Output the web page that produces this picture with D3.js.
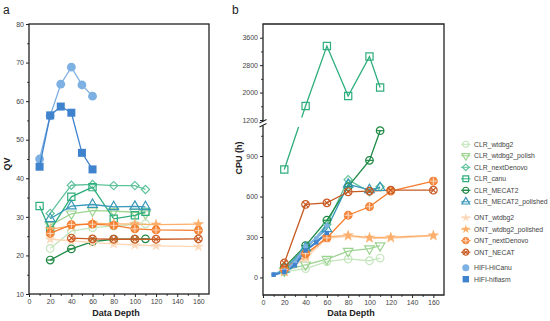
<!DOCTYPE html>
<html><head><meta charset="utf-8">
<script src="https://cdn.jsdelivr.net/npm/d3@7"></script>
<style>
body{margin:0;background:#fff}
svg{display:block;font-family:Arial,"Liberation Sans",sans-serif}
</style>
</head><body>
<svg id="chart" width="550" height="321"></svg>
<script>
// Sequencing depths per group of assemblies
const clrDepth = [20, 40, 60, 80, 100, 110];
const canuDepthQV = [10, 20, 40, 60, 80, 100, 110];
const ontDepth = [20, 40, 60, 80, 100, 120, 160];
const necatDepthQV = [40, 60, 80, 100, 120, 160];
const hifiDepth = [10, 20, 30, 40, 50, 60];

// Assembly quality (QV)
const qvClrWtdbg2 = [21.8, 26.3, 27.2, 27.6, 28.0, 28.2];
const qvClrWtdbg2Polish = [27.8, 30.8, 31.6, 31.5, 31.2, 30.8];
const qvClrNextDenovo = [30.9, 38.2, 38.4, 38.1, 38.1, 37.1];
const qvClrCanu = [32.8, 26.5, 35.2, 37.7, 29.5, 30.4, 31.3];
const qvClrMecat2 = [18.8, 21.7, 23.6, 24.2, 24.2, 24.3];
const qvClrMecat2Polished = [29.5, 32.8, 33.2, 32.6, 32.7, 32.6];
const qvOntWtdbg2 = [24.2, 23.8, 23.3, 23.0, 22.7, 22.5, 22.3];
const qvOntWtdbg2Polished = [26.8, 27.6, 28.4, 28.2, 28.1, 28.0, 28.1];
const qvOntNextDenovo = [25.7, 28.0, 28.1, 27.8, 26.9, 26.6, 26.5];
const qvOntNecat = [24.5, 24.3, 24.2, 24.2, 24.2, 24.3];
const qvHifiHiCanu = [45.0, 56.2, 64.4, 68.8, 64.2, 61.3];
const qvHifiHifiasm = [43.0, 56.3, 58.6, 57.0, 46.6, 42.3];

// Compute cost (CPU hours)
const cpuClrWtdbg2 = [42, 65, 118, 137, 124, 144];
const cpuClrWtdbg2Polish = [50, 94, 135, 195, 213, 236];
const cpuClrNextDenovo = [48, 205, 395, 725, 635, 672];
const cpuClrCanu = [800, 1610, 3360, 1900, 3050, 2150];
const cpuClrMecat2 = [75, 236, 424, 673, 868, 1088];
const cpuClrMecat2Polished = [60, 220, 360, 690, 650, 665];
const cpuOntWtdbg2 = [40, 140, 290, 305, 290, 290, 308];
const cpuOntWtdbg2Polished = [45, 160, 300, 312, 295, 298, 312];
const cpuOntNextDenovo = [60, 176, 293, 461, 524, 640, 714];
const cpuOntNecat = [107, 541, 553, 635, 640, 647, 647];
const cpuHifiHiCanu = [25, 50, 110, 230, 290, 385];
const cpuHifiHifiasm = [20, 40, 90, 200, 260, 330];

// Axis ticks
const depthTicks = [0, 20, 40, 60, 80, 100, 120, 140, 160];
const depthMinorTicks = [10, 30, 50, 70, 90, 110, 130, 150];
const qvTicks = [10, 20, 30, 40, 50, 60, 70, 80];
const qvMinorTicks = [15, 25, 35, 45, 55, 65, 75];
const cpuLowTicks = [0, 300, 600, 900];
const cpuLowMinorTicks = [150, 450, 750, 1050];
const cpuHighTicks = [1200, 2000, 2800, 3600];
const cpuHighMinorTicks = [1600, 2400, 3200];

const series = [
  {name: "CLR_wtdbg2", color: "#c4e5bd", marker: "circle",
   qv: [clrDepth, qvClrWtdbg2], cpu: [clrDepth, cpuClrWtdbg2]},
  {name: "CLR_wtdbg2_polish", color: "#9dd391", marker: "triDown",
   qv: [clrDepth, qvClrWtdbg2Polish], cpu: [clrDepth, cpuClrWtdbg2Polish]},
  {name: "CLR_nextDenovo", color: "#5fc29b", marker: "diamond",
   qv: [clrDepth, qvClrNextDenovo], cpu: [clrDepth, cpuClrNextDenovo]},
  {name: "CLR_canu", color: "#2eae7c", marker: "square",
   qv: [canuDepthQV, qvClrCanu], cpu: [clrDepth, cpuClrCanu]},
  {name: "CLR_MECAT2", color: "#1f8a45", marker: "circleBar",
   qv: [clrDepth, qvClrMecat2], cpu: [clrDepth, cpuClrMecat2]},
  {name: "CLR_MECAT2_polished", color: "#3798b8", marker: "triUp",
   qv: [clrDepth, qvClrMecat2Polished], cpu: [clrDepth, cpuClrMecat2Polished]},
  {name: "ONT_wtdbg2", color: "#fdd6b5", marker: "starFaint",
   qv: [ontDepth, qvOntWtdbg2], cpu: [ontDepth, cpuOntWtdbg2]},
  {name: "ONT_wtdbg2_polished", color: "#fcae6a", marker: "star",
   qv: [ontDepth, qvOntWtdbg2Polished], cpu: [ontDepth, cpuOntWtdbg2Polished]},
  {name: "ONT_nextDenovo", color: "#f47c2c", marker: "circlePlus",
   qv: [ontDepth, qvOntNextDenovo], cpu: [ontDepth, cpuOntNextDenovo]},
  {name: "ONT_NECAT", color: "#c85a23", marker: "circleX",
   qv: [necatDepthQV, qvOntNecat], cpu: [ontDepth, cpuOntNecat]},
  {name: "HIFI-HiCanu", color: "#7db0e3", marker: "dot",
   qv: [hifiDepth, qvHifiHiCanu], cpu: [hifiDepth, cpuHifiHiCanu]},
  {name: "HIFI-hifiasm", color: "#3f82cd", marker: "block",
   qv: [hifiDepth, qvHifiHifiasm], cpu: [hifiDepth, cpuHifiHifiasm]}
];

const svg = d3.select("#chart");
const axisColor = "#222";
const labelColor = "#444";

function drawMarker(parent, kind, color, cx, cy, k) {
  const g = parent.append("g").attr("transform", `translate(${cx},${cy})`);
  const sw = 1.2;
  const open = el => el.attr("fill", "none").attr("stroke", color).attr("stroke-width", sw);
  const r = 3.8 * k;
  switch (kind) {
    case "circle":
      open(g.append("circle").attr("r", r)); break;
    case "circleBar":
      open(g.append("circle").attr("r", r));
      open(g.append("line").attr("x1", -r).attr("x2", r)); break;
    case "circlePlus":
      g.append("circle").attr("r", r).attr("fill", color).attr("fill-opacity", 0.85)
        .attr("stroke", color).attr("stroke-width", sw);
      g.append("path").attr("d", `M${-r},0H${r}M0,${-r}V${r}`)
        .attr("stroke", "#fff").attr("stroke-opacity", 0.7).attr("stroke-width", 0.9); break;
    case "circleX": {
      open(g.append("circle").attr("r", r));
      const d = r * 0.7;
      open(g.append("path").attr("d", `M${-d},${-d}L${d},${d}M${-d},${d}L${d},${-d}`)); break;
    }
    case "square":
      open(g.append("path").attr("d", d3.symbol(d3.symbolSquare, 52 * k * k)())); break;
    case "diamond":
      open(g.append("path").attr("d", d3.symbol(d3.symbolSquare, 34 * k * k)()).attr("transform", "rotate(45)")); break;
    case "triUp":
      open(g.append("path").attr("d", d3.symbol(d3.symbolTriangle, 40 * k * k)())); break;
    case "triDown":
      open(g.append("path").attr("d", d3.symbol(d3.symbolTriangle, 40 * k * k)()).attr("transform", "rotate(180)")); break;
    case "star":
      g.append("path").attr("d", d3.symbol(d3.symbolStar, 40 * k * k)()).attr("fill", color); break;
    case "starFaint":
      g.append("path").attr("d", d3.symbol(d3.symbolStar, 40 * k * k)()).attr("fill", color).attr("opacity", 0.9); break;
    case "dot":
      g.append("circle").attr("r", 4.4 * k).attr("fill", color); break;
    case "block":
      g.append("path").attr("d", d3.symbol(d3.symbolSquare, 64 * k * k)()).attr("fill", color); break;
  }
}

function xAxisBottom(g, x, y0) {
  const ax = g.append("g").attr("transform", `translate(0,${y0})`)
    .call(d3.axisBottom(x).tickValues(depthTicks).tickSize(3).tickPadding(2).tickFormat(d3.format("d")));
  ax.select(".domain").remove();
  ax.selectAll("line").attr("stroke", axisColor);
  ax.selectAll("text").attr("font-size", 7).attr("fill", labelColor);
  const minor = g.append("g").attr("transform", `translate(0,${y0})`)
    .call(d3.axisBottom(x).tickValues(depthMinorTicks).tickSize(1.8).tickFormat(""));
  minor.select(".domain").remove();
  minor.selectAll("line").attr("stroke", axisColor);
}

function yAxisLeft(g, y, x0, ticks, minorTicks) {
  const ax = g.append("g").attr("transform", `translate(${x0},0)`)
    .call(d3.axisLeft(y).tickValues(ticks).tickSize(3).tickPadding(2).tickFormat(d3.format("d")));
  ax.select(".domain").remove();
  ax.selectAll("line").attr("stroke", axisColor);
  ax.selectAll("text").attr("font-size", 7).attr("fill", labelColor);
  const minor = g.append("g").attr("transform", `translate(${x0},0)`)
    .call(d3.axisLeft(y).tickValues(minorTicks).tickSize(1.8).tickFormat(""));
  minor.select(".domain").remove();
  minor.selectAll("line").attr("stroke", axisColor);
}

const lineW = 1.3;

// ---------- Panel a: QV ----------
const ax = d3.scaleLinear().domain([0, 170]).range([29, 209]);
const ay = d3.scaleLinear().domain([10, 80]).range([294, 24]);
const pa = svg.append("g");

xAxisBottom(pa, ax, 294);
yAxisLeft(pa, ay, 29, qvTicks, qvMinorTicks);

series.forEach(s => {
  const [xs, ys] = s.qv;
  const pts = xs.map((d, i) => [ax(d), ay(ys[i])]);
  pa.append("path").attr("d", d3.line()(pts)).attr("fill", "none")
    .attr("stroke", s.color).attr("stroke-width", lineW);
  pts.forEach(p => drawMarker(pa, s.marker, s.color, p[0], p[1], 1));
});

pa.append("rect").attr("x", 29).attr("y", 24).attr("width", 180).attr("height", 270)
  .attr("fill", "none").attr("stroke", axisColor).attr("stroke-width", 1.3);

pa.append("text").attr("transform", "translate(10,164) rotate(-90)")
  .attr("text-anchor", "middle").attr("font-size", 9).attr("font-weight", "bold")
  .attr("fill", "#222").text("QV");
pa.append("text").attr("x", 116).attr("y", 316).attr("text-anchor", "middle")
  .attr("font-size", 9).attr("font-weight", "bold").attr("fill", "#222").text("Data Depth");
pa.append("text").attr("x", 3).attr("y", 14).attr("font-size", 12).attr("fill", "#222").text("a");

// ---------- Panel b: CPU hours, broken y axis ----------
const bx = d3.scaleLinear().domain([0, 170]).range([263, 444]);
const byLow = d3.scaleLinear().domain([-130, 1130]).range([295, 125]);
const byHigh = d3.scaleLinear().domain([1200, 4000]).range([120, 24]);
const by = v => (v <= 1150 ? byLow(v) : byHigh(v));
const pb = svg.append("g");

const clip = svg.append("defs").append("clipPath").attr("id", "bClip");
clip.append("rect").attr("x", 263).attr("y", 24).attr("width", 181).attr("height", 93.5);
clip.append("rect").attr("x", 263).attr("y", 127).attr("width", 181).attr("height", 168);

xAxisBottom(pb, bx, 295);
yAxisLeft(pb, byLow, 263, cpuLowTicks, cpuLowMinorTicks);
yAxisLeft(pb, byHigh, 263, cpuHighTicks, cpuHighMinorTicks);

const linesB = pb.append("g").attr("clip-path", "url(#bClip)");
const marksB = pb.append("g");
series.forEach(s => {
  const [xs, ys] = s.cpu;
  const pts = xs.map((d, i) => [bx(d), by(ys[i])]);
  const hifi = s.marker === "dot" || s.marker === "block";
  linesB.append("path").attr("d", d3.line()(pts)).attr("fill", "none")
    .attr("stroke", s.color).attr("stroke-width", hifi ? 2.2 : lineW);
  pts.forEach(p => drawMarker(marksB, s.marker, s.color, p[0], p[1], hifi ? 0.55 : 1));
});

// frame with a break on the left axis
pb.append("path")
  .attr("d", "M263,121.5V24H444V295H263V125.5")
  .attr("fill", "none").attr("stroke", axisColor).attr("stroke-width", 1.3);
pb.append("path")
  .attr("d", "M259.5,123L266.5,119.5M259.5,127L266.5,123.5")
  .attr("fill", "none").attr("stroke", axisColor).attr("stroke-width", 1.1);

pb.append("text").attr("transform", "translate(242,158) rotate(-90)")
  .attr("text-anchor", "middle").attr("font-size", 9).attr("font-weight", "bold")
  .attr("fill", "#222").text("CPU (h)");
pb.append("text").attr("x", 351).attr("y", 316).attr("text-anchor", "middle")
  .attr("font-size", 9).attr("font-weight", "bold").attr("fill", "#222").text("Data Depth");
pb.append("text").attr("x", 232).attr("y", 14).attr("font-size", 12).attr("fill", "#222").text("b");

// ---------- Legend ----------
const legendY = [144.3, 155.8, 167.3, 178.8, 190.3, 201.8, 217.7, 229.2, 240.7, 252.2, 267.7, 279.2];
const lg = svg.append("g");
series.forEach((s, i) => {
  const y = legendY[i];
  if (s.marker !== "dot" && s.marker !== "block") {
    lg.append("line").attr("x1", 461).attr("x2", 470.5).attr("y1", y).attr("y2", y)
      .attr("stroke", s.color).attr("stroke-width", 1);
  }
  drawMarker(lg, s.marker, s.color, 465.8, y, 0.8);
  lg.append("text").attr("x", 474).attr("y", y + 2.5).attr("font-size", 6.8)
    .attr("fill", labelColor).text(s.name);
});
</script>
</body></html>
